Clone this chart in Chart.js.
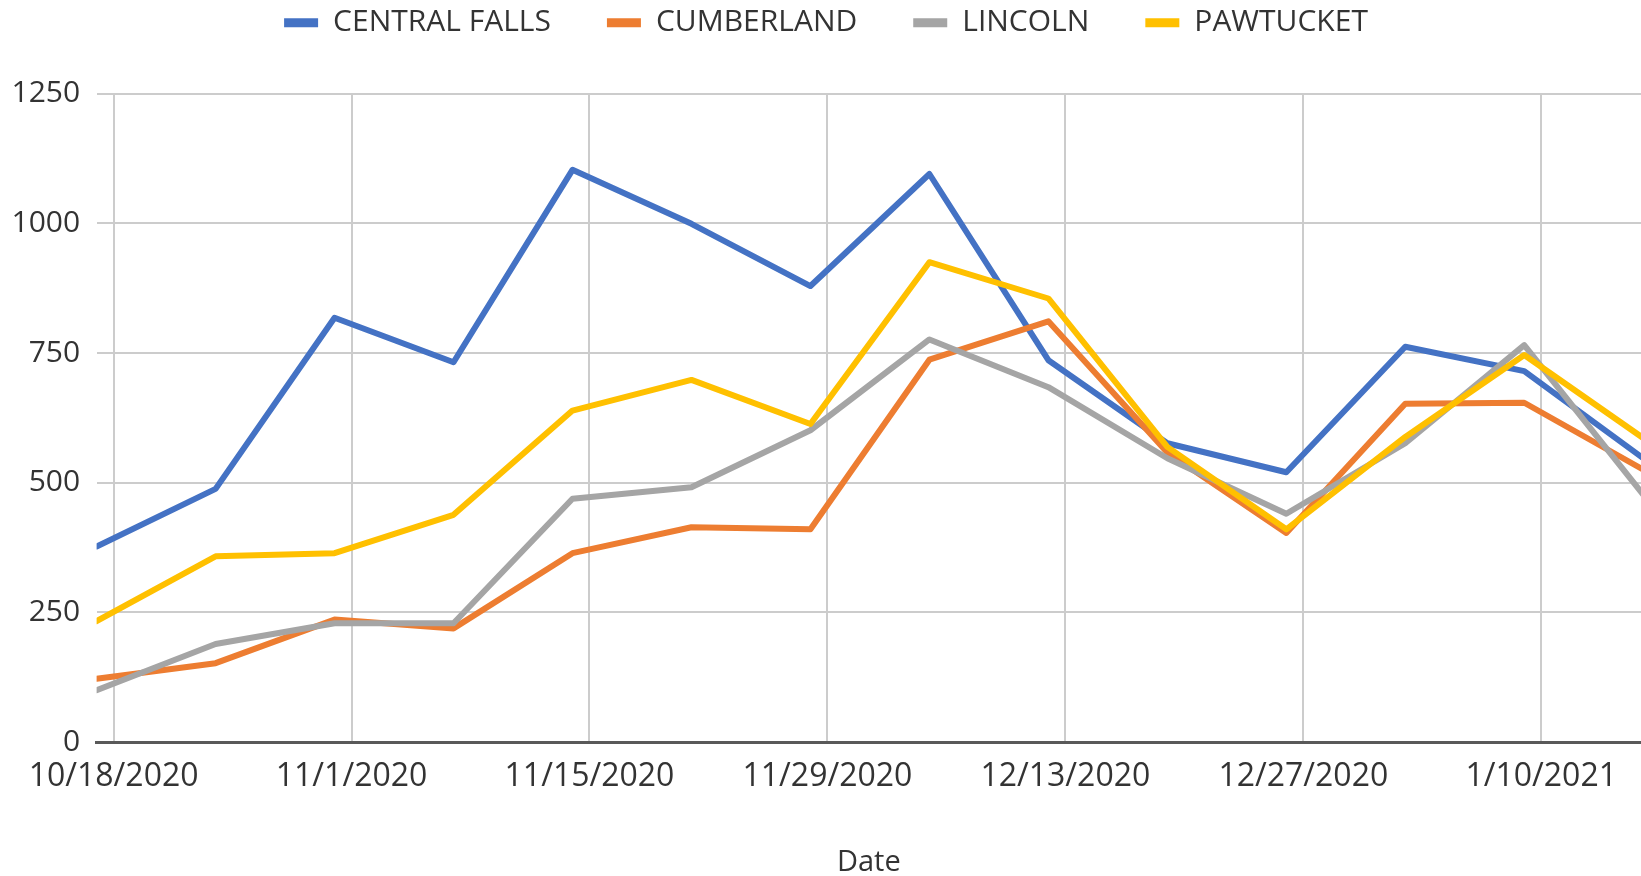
<!DOCTYPE html>
<html>
<head>
<meta charset="utf-8">
<script src="https://cdn.jsdelivr.net/npm/chart.js@4/dist/chart.umd.min.js"></script>
<style>
  html, body { margin: 0; padding: 0; background: #fff; overflow: hidden; }
  #wrap { width: 1641px; height: 876px; position: relative; }
</style>
</head>
<body>
<div id="wrap"><canvas id="lineChart"></canvas></div>
<script>
const CHART = document.getElementById("lineChart");

// weekly points
const dates = ["10/17/2020", "10/24/2020", "10/31/2020", "11/7/2020", "11/14/2020", "11/21/2020", "11/28/2020",
               "12/5/2020", "12/12/2020", "12/19/2020", "12/26/2020", "1/2/2021", "1/9/2021", "1/16/2021"];
const centralFalls = [377, 488, 818, 732, 1103, 999, 879, 1095, 736, 576, 520, 762, 715, 547];
const cumberland   = [122, 152, 236, 219, 364, 414, 410, 737, 811, 558, 403, 652, 654, 525];
const lincoln      = [100, 189, 229, 229, 469, 491, 601, 776, 684, 547, 440, 576, 765, 477];
const pawtucket    = [233, 358, 364, 438, 639, 698, 613, 925, 855, 569, 410, 588, 746, 586];

const xTickLabels = ["10/18/2020", "11/1/2020", "11/15/2020", "11/29/2020", "12/13/2020", "12/27/2020", "1/10/2021"];
const yTicks = [0, 250, 500, 750, 1000, 1250];

function dayNum(s) {
  var p = s.split("/");
  return Date.UTC(+p[2], +p[0] - 1, +p[1]) / 86400000;
}
const day0 = dayNum(xTickLabels[0]);
const tickDays = xTickLabels.map(d => dayNum(d) - day0);

function toPoints(vals) {
  return vals.map((v, i) => ({ x: dayNum(dates[i]) - day0, y: v }));
}

const FONT = "'Open Sans', 'Noto Sans', sans-serif";
const TEXT = "#333333";

function series(label, vals, color, order) {
  return {
    label: label,
    data: toPoints(vals),
    borderColor: color,
    backgroundColor: color,
    borderWidth: 6,
    borderJoinStyle: 'round',
    borderCapStyle: 'round',
    pointRadius: 0,
    pointHoverRadius: 0,
    tension: 0,
    order: order
  };
}

// extra room under the legend, and nudge it a bit right
const legendTweak = {
  id: 'legendTweak',
  beforeInit(chart) {
    if (!chart.legend) return;
    const fit = chart.legend.fit;
    chart.legend.fit = function () {
      fit.bind(chart.legend)();
      this.height += 45.9;
    };
    const draw = chart.legend.draw;
    chart.legend.draw = function () {
      const c = this.ctx;
      c.save();
      c.translate(8, 0);
      draw.apply(this, arguments);
      c.restore();
    };
  }
};

let lineChart = new Chart(CHART, {
  type: 'line',
  data: {
    datasets: [
      series("CENTRAL FALLS", centralFalls, "#4472C4", 4),
      series("CUMBERLAND", cumberland, "#ED7D31", 3),
      series("LINCOLN", lincoln, "#A5A5A5", 2),
      series("PAWTUCKET", pawtucket, "#FFC000", 1)
    ]
  },
  options: {
    responsive: true,
    maintainAspectRatio: false,
    animation: false,
    layout: { padding: { top: -48.3, left: -5, right: 0, bottom: -4 } },
    plugins: {
      tooltip: { enabled: false },
      legend: {
        position: 'top',
        labels: {
          boxWidth: 34,
          boxHeight: 9,
          padding: 56,
          color: TEXT,
          font: { family: FONT, size: 30 },
          sort: (a, b) => a.datasetIndex - b.datasetIndex,
          generateLabels: chart => Chart.defaults.plugins.legend.labels.generateLabels(chart)
            .map(l => Object.assign(l, { lineWidth: 0 }))
        }
      }
    },
    scales: {
      x: {
        type: 'linear',
        min: dayNum(dates[0]) - day0,
        max: 89.87,
        afterBuildTicks: axis => { axis.ticks = tickDays.map(v => ({ value: v })); },
        ticks: {
          padding: 16,
          color: TEXT,
          maxRotation: 0,
          autoSkip: false,
          font: { family: FONT, size: 32 },
          callback: v => { const i = tickDays.indexOf(v); return i >= 0 ? xTickLabels[i] : ''; }
        },
        grid: { color: '#cccccc', lineWidth: 2, drawTicks: false },
        border: { display: true, color: '#595959', width: 3 },
        title: {
          display: true,
          text: 'Date',
          color: TEXT,
          font: { family: FONT, size: 29 },
          padding: { top: 32.8, bottom: 0 }
        }
      },
      y: {
        min: 0,
        max: 1250,
        afterBuildTicks: axis => { axis.ticks = yTicks.map(v => ({ value: v })); },
        ticks: {
          padding: 16.5,
          color: TEXT,
          font: { family: FONT, size: 30 },
          callback: v => String(v)
        },
        grid: { color: '#cccccc', lineWidth: 2, drawTicks: false },
        border: { display: false }
      }
    }
  },
  plugins: [legendTweak]
});
</script>
</body>
</html>
